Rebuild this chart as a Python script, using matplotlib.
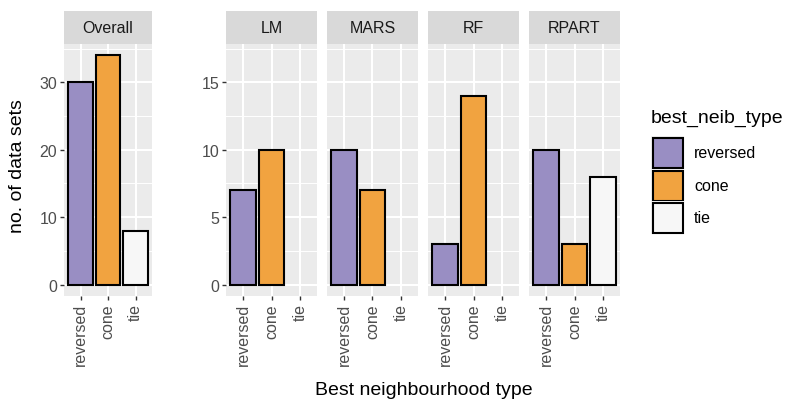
import matplotlib.pyplot as plt
from matplotlib.patches import Rectangle

categories = ["reversed", "cone", "tie"]
panels = ["Overall", "LM", "MARS", "RF", "RPART"]
overall = [30, 34, 8]
lm = [7, 10, 0]
mars = [10, 7, 0]
rf = [3, 14, 0]
rpart = [10, 3, 8]
values = [overall, lm, mars, rf, rpart]

colors = ["#998EC3", "#F1A340", "#F7F7F7"]
W, H = 787, 402

plt.rcParams["font.family"] = ["Liberation Sans", "DejaVu Sans"]
fig = plt.figure(figsize=(W / 100, H / 100), dpi=100)


def px_axes(x0, x1, y0, y1):
    return fig.add_axes([x0 / W, 1 - y1 / H, (x1 - x0) / W, (y1 - y0) / H])


# panel pixel extents (left, right)
panel_x = [(64, 152), (226, 317), (327, 418), (428, 519), (529, 620)]
strip_top, strip_bot, panel_bot = 12, 45, 297

for k, (name, vals) in enumerate(zip(panels, values)):
    x0, x1 = panel_x[k]
    ax = px_axes(x0, x1, strip_bot, panel_bot)
    ax.set_facecolor("#EBEBEB")
    for s in ax.spines.values():
        s.set_visible(False)
    if k == 0:
        ax.set_ylim(-1.7, 35.7)
        major = [0, 10, 20, 30]
        minor = [5, 15, 25, 35]
    else:
        ax.set_ylim(-0.85, 17.85)
        major = [0, 5, 10, 15]
        minor = [2.5, 7.5, 12.5, 17.5]
    ax.set_xlim(0.4, 3.6)
    for m in minor:
        ax.axhline(m, color="white", lw=0.7, zorder=0)
    for m in major:
        ax.axhline(m, color="white", lw=1.5, zorder=0)
    for xi in range(1, 4):
        ax.axvline(xi, color="white", lw=1.5, zorder=0)
    xs = [i + 1 for i, v in enumerate(vals) if v > 0]
    hs = [v for v in vals if v > 0]
    cs = [colors[i] for i, v in enumerate(vals) if v > 0]
    ax.bar(xs, hs, width=0.9, color=cs, edgecolor="black", linewidth=1.5, zorder=2)
    ax.set_xticks([1, 2, 3])
    ax.set_xticklabels(categories, rotation=90, fontsize=11.5, color="#4D4D4D")
    ax.tick_params(axis="x", length=3, width=1, color="#333333", pad=2)
    if k in (0, 1):
        ax.set_yticks(major)
        ax.set_yticklabels([str(m) for m in major], fontsize=11.5, color="#4D4D4D")
        ax.tick_params(axis="y", length=3, width=1, color="#333333", pad=2)
    else:
        ax.set_yticks([])
    # strip
    sx = px_axes(x0, x1, strip_top, strip_bot)
    sx.set_facecolor("#D9D9D9")
    sx.set_xticks([])
    sx.set_yticks([])
    for s in sx.spines.values():
        s.set_visible(False)
    sx.text(0.5, 0.5, name, ha="center", va="center", fontsize=11.5, color="#1A1A1A",
            transform=sx.transAxes)

fig.text(18 / W, 1 - 166 / H, "no. of data sets", rotation=90, ha="center", va="center",
         fontsize=14)
fig.text(424 / W, 1 - 391 / H, "Best neighbourhood type", ha="center", va="center",
         fontsize=14)

# legend
fig.text(651 / W, 1 - 118 / H, "best_neib_type", ha="left", va="center", fontsize=14)
key_y = [138, 171, 203]
for i, cat in enumerate(categories):
    y0 = key_y[i]
    fig.add_artist(Rectangle((651 / W, 1 - (y0 + 32) / H), 33 / W, 33 / H,
                             transform=fig.transFigure, facecolor="#F2F2F2",
                             edgecolor="none"))
    fig.add_artist(Rectangle((652.5 / W, 1 - (y0 + 30.5) / H), 30 / W, 29.5 / H,
                             transform=fig.transFigure, facecolor=colors[i],
                             edgecolor="black", linewidth=1.5))
    fig.text(694 / W, 1 - (y0 + 15.5) / H, cat, ha="left", va="center", fontsize=11.5)

fig.savefig("out.png", dpi=100)
